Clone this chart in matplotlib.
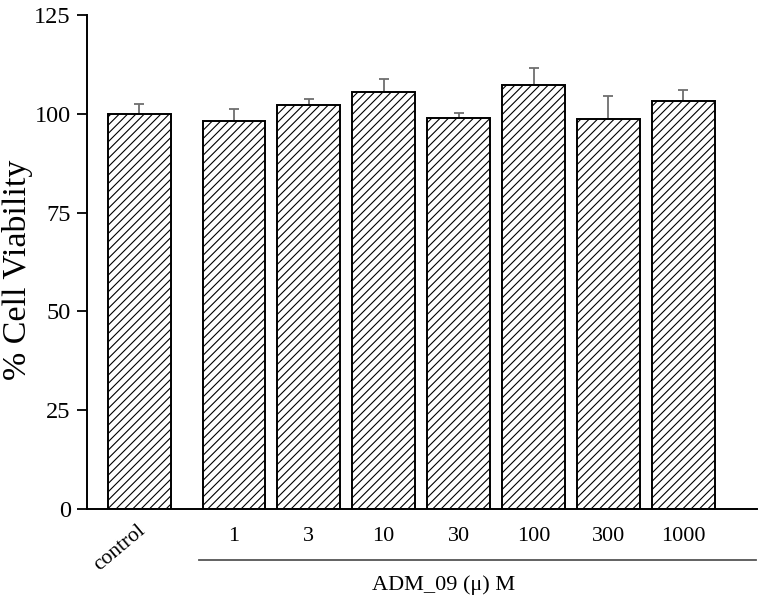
import matplotlib
matplotlib.use("Agg")
import matplotlib.pyplot as plt
import numpy as np

plt.rcParams['font.family'] = ['Liberation Serif', 'DejaVu Serif']
plt.rcParams['hatch.linewidth'] = 0.8

labels = ['control', '1', '3', '10', '30', '100', '300', '1000']
viability = [100.0, 98.1, 102.3, 105.5, 98.8, 107.3, 98.7, 103.3]
sem = [2.5, 3.0, 1.3, 3.2, 1.4, 4.2, 5.8, 2.8]
y_ticks = [0, 25, 50, 75, 100, 125]

# control sits a bit apart from the dose groups
x = np.array([0.0] + [1.256 + i for i in range(len(labels) - 1)])

fig = plt.figure(figsize=(7.59, 5.96), dpi=100)
ax = fig.add_axes([0.1142, 0.146, 0.8828, 0.829])

ax.bar(x, viability, width=0.83, color='white', edgecolor='black',
       linewidth=1.4, hatch='////', zorder=2)
ax.errorbar(x, viability, yerr=[np.zeros(len(sem)), sem], fmt='none',
            ecolor='#6e6e6e', elinewidth=1.3, capsize=3.3, capthick=1.3,
            zorder=1)

ax.set_xlim(-0.704, 8.233)
ax.set_ylim(0, 125)
ax.set_yticks(y_ticks)
ax.tick_params(axis='y', labelsize=17.5, length=7, width=1.3, direction='out', pad=4.5)
ax.set_xticks(x[1:])
ax.set_xticklabels(labels[1:])
ax.tick_params(axis='x', length=0, labelsize=16, pad=13)

for side in ['top', 'right']:
    ax.spines[side].set_visible(False)
for side in ['left', 'bottom']:
    ax.spines[side].set_linewidth(1.4)

ax.set_ylabel('% Cell Viability', fontsize=24.5)
ax.yaxis.set_label_coords(-0.080, 0.485)

tr = ax.get_xaxis_transform()
ax.text(-0.27, -0.079, labels[0], rotation=40, ha='center', va='center',
        fontsize=15.5, transform=tr)
ax.plot([0.793, 8.22], [-0.1035, -0.1035], color='#555555', lw=1.3,
        transform=tr, clip_on=False)
ax.text(4.06, -0.155, 'ADM_09 (\u03bc) M', ha='center', va='center',
        fontsize=16, transform=tr)

fig.savefig('out.png', dpi=100)
